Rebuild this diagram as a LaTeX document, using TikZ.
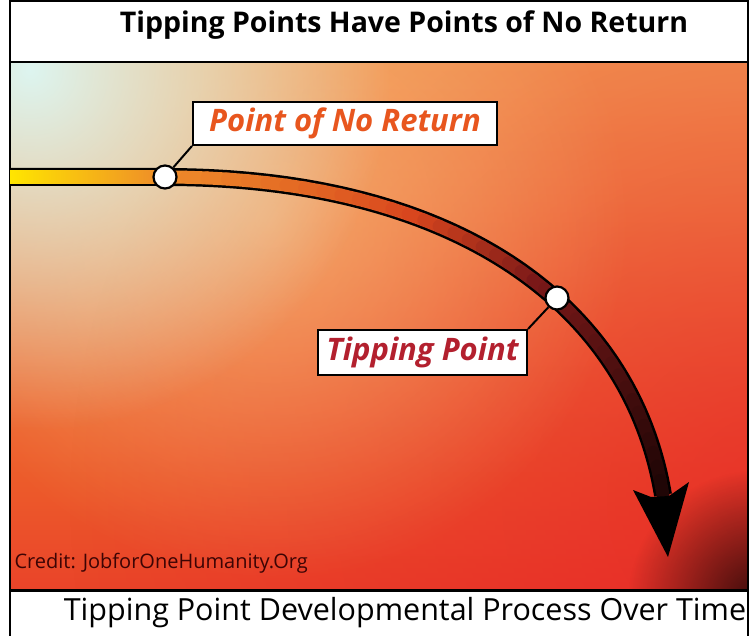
\documentclass[tikz,border=0pt]{standalone}
\usepackage{fontspec}
\setmainfont{Open Sans}
\usetikzlibrary{positioning,fadings,calc}
\definecolor{mint}{HTML}{DDF5F0}
\definecolor{peach}{HTML}{F4B262}
\definecolor{tangerine}{HTML}{F2934A}
\definecolor{flame}{HTML}{EC5A2A}
\definecolor{blood}{HTML}{E61E28}
\definecolor{apricot}{HTML}{F8BE80}
\definecolor{shaftA}{HTML}{EE8A2A}
\definecolor{shaftB}{HTML}{D8461E}
\definecolor{shaftC}{HTML}{7A1818}
\definecolor{shaftD}{HTML}{1A0505}
\definecolor{nrorange}{HTML}{E8561E}
\definecolor{tpred}{HTML}{B3202E}
\tikzfading[name=glow, inner color=transparent!0, outer color=transparent!100]
\pgfdeclareverticalshading{backdrop}{100bp}{color(0bp)=(blood); color(8bp)=(blood); color(35bp)=(flame); color(62bp)=(tangerine); color(88bp)=(peach); color(100bp)=(peach)}

\begin{document}
\begin{tikzpicture}[x=1pt,y=-1pt,
    dot/.style={draw, circle, fill=white, line width=2.2pt, minimum size=23pt, inner sep=0pt},
    callout/.style={draw, rectangle, fill=white, line width=2pt, inner sep=0pt, font=\bfseries\itshape\fontsize{31}{31}\selectfont},
    shaft/.style={line width=13pt, line cap=round}]
    \useasboundingbox (0,0) rectangle (752,636);
    % background
    \begin{scope}
        \clip (10,62) rectangle (748,590);
        \shade[shading=backdrop] (10,62) rectangle (748,590);
        \fill[blood, path fading=glow, opacity=0.65] (770,500) circle (700pt);
        \fill[apricot, path fading=glow, opacity=0.6] (270,220) circle (360pt);
        \fill[mint, path fading=glow] (30,70) circle (360pt);
        \fill[black, path fading=glow, opacity=0.75] (758,600) circle (130pt);
    \end{scope}
    % frame
    \draw[line width=2pt] (10,640) -- (10,1) -- (748,1) -- (748,640);
    \draw[line width=2pt] (10,62) -- (748,62);
    \draw[line width=3pt] (10,590) -- (748,590);
    \node[font=\bfseries\fontsize{28.5}{28.5}\selectfont](title) at (404,25){Tipping Points Have Points of No Return};
    \node[font=\fontsize{30.5}{30.5}\selectfont](xlabel) at (405,613){Tipping Point Developmental Process Over Time};
    \node[anchor=west, text=shaftD!85!red, font=\fontsize{20}{20}\selectfont](credit) at (11,563){Credit: JobforOneHumanity.Org};

    % the curve
    \coordinate (start) at (10,177);
    \coordinate (end) at (663,495);
    \node[inner sep=0pt, minimum size=0pt](noreturn) at (165,177){};
    \draw[line width=18pt] (start) -- (noreturn.center) .. controls (450,177) and (630,300) .. (end);
    \shade[left color=yellow!80!orange, right color=shaftA] (10,170.5) rectangle (noreturn.center |- 0,183.5);
    \path (noreturn.center) .. controls (450,177) and (630,300) .. (end)
        foreach \i in {0,...,40}{coordinate[pos=\i/40] (c\i)};
    \foreach \i in {0,...,12}{\pgfmathtruncatemacro\j{\i+1}\pgfmathtruncatemacro\p{\i*100/13}
        \draw[shaft, shaftB!\p!shaftA] (c\i) -- (c\j);}
    \foreach \i in {13,...,21}{\pgfmathtruncatemacro\j{\i+1}\pgfmathtruncatemacro\p{(\i-13)*100/9}
        \draw[shaft, shaftC!\p!shaftB] (c\i) -- (c\j);}
    \foreach \i in {22,...,39}{\pgfmathtruncatemacro\j{\i+1}\pgfmathtruncatemacro\p{(\i-22)*100/18}
        \draw[shaft, shaftD!\p!shaftC] (c\i) -- (c\j);}
    \fill (633,490) -- (668,557) -- (689,482) -- (669,496) -- (651,497) -- cycle;

    % points and labels
    \node[dot](noreturnpt) at (165,177){};
    \node[dot](tippingpt) at (557,298){};
    \node[callout, text=nrorange, minimum width=304pt, minimum height=43pt](noreturnlbl) at (345,123.5){Point of No Return};
    \node[callout, text=tpred, minimum width=209pt, minimum height=45pt](tippinglbl) at (422.5,352.5){Tipping Point};
    \draw[line width=2pt](noreturnlbl.south west) -- (noreturnpt);
    \draw[line width=2pt](tippinglbl.north east) -- (tippingpt);
\end{tikzpicture}
\end{document}
